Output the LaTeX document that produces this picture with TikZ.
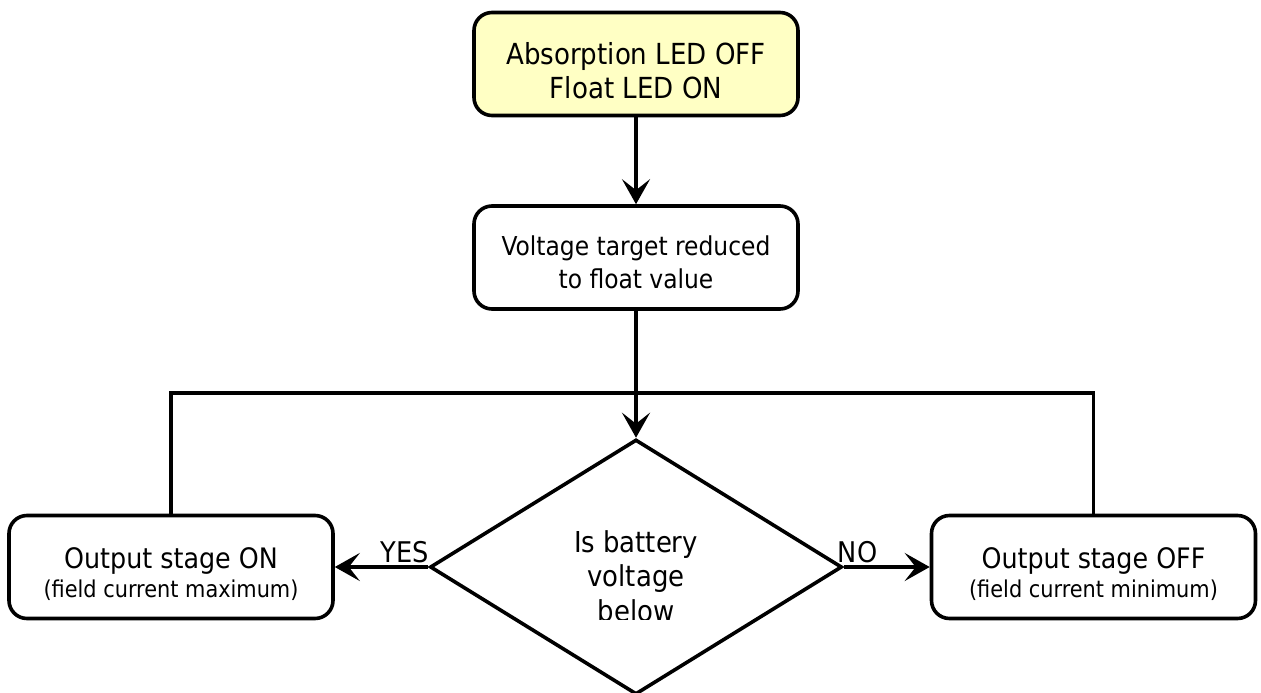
\documentclass[tikz,border=0pt]{standalone}
\usepackage{fontspec}
\setmainfont{DejaVu Sans Condensed}
\usetikzlibrary{arrows.meta,shapes.geometric}
\definecolor{ledfill}{RGB}{255,255,196}
\begin{document}
\begin{tikzpicture}[x=1pt,y=-1pt,
  box/.style={draw, line width=3.6pt, rounded corners=18pt, minimum width=324pt, minimum height=103pt, inner sep=0pt},
  conn/.style={line width=3.6pt, -{Stealth[length=25pt,width=28pt,inset=11pt]}},
  plain/.style={line width=3.6pt},
  txt/.style={anchor=base, inner sep=0pt},
  big/.style={font=\fontsize{28.2}{33}\selectfont},
  top/.style={font=\fontsize{29}{34}\selectfont},
  qst/.style={font=\fontsize{28.8}{34}\selectfont},
  mid/.style={font=\fontsize{26}{31}\selectfont},
  small/.style={font=\fontsize{23.2}{27}\selectfont},
  lbl/.style={anchor=base, inner sep=0pt, font=\fontsize{28.5}{33}\selectfont}]
\useasboundingbox (0,0) rectangle (1261,693);
% boxes
\node[box, fill=ledfill] (led) at (636,64) {};
\node[box] (vt) at (636,257.5) {};
\node[box] (on) at (171,567) {};
\node[box] (off) at (1093.5,567) {};
\node[draw, line width=3.6pt, diamond, minimum width=412pt, minimum height=255pt, inner sep=0pt] (dec) at (636,567) {};
% texts
\node[txt, top] (led1) at (636,65) {Absorption LED OFF};
\node[txt, top] (led2) at (636,98) {Float LED ON};
\node[txt, mid] (vt1) at (636,255) {Voltage target reduced};
\node[txt, mid] (vt2) at (636,288) {to float value};
\node[txt, big] (on1) at (171,568) {Output stage ON};
\node[txt, small] (on2) at (171,597) {(field current maximum)};
\node[txt, big] (off1) at (1093.5,568) {Output stage OFF};
\node[txt, small] (off2) at (1093.5,597) {(field current minimum)};
\begin{scope}
\clip (400,420) rectangle (870,619);
\node[txt, qst] (q1) at (636,552) {Is battery};
\node[txt, qst] (q2) at (636,586) {voltage};
\node[txt, qst] (q3) at (636,621.5) {below};
\end{scope}
% connectors
\coordinate (j) at (636,393);
\draw[conn] (led.south) -- (vt.north);
\draw[conn] (vt.south) -- (dec.north);
\draw[plain] (on.north) |- (j) -| (off.north);
\draw[conn] (dec.west) -- (on.east);
\draw[conn] (dec.east) -- (off.west);
\node[lbl] (yes) at (405,562) {YES};
\node[lbl] (no) at (857.5,562) {NO};
\end{tikzpicture}
\end{document}
